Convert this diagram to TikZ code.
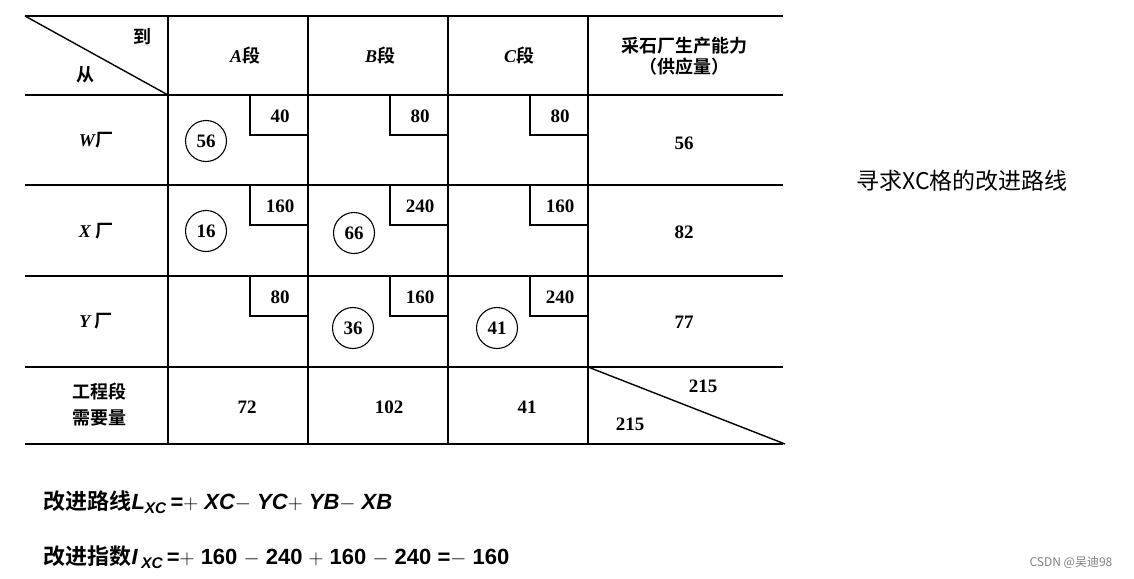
\documentclass[tikz,border=0pt]{standalone}
\usepackage{fontspec}
\setmainfont{Liberation Serif}
\newfontfamily\cjk{Noto Sans CJK SC}
\newfontfamily\cjkb{Noto Sans CJK SC Bold}
\newfontfamily\sans{Liberation Sans}
\newfontfamily\serb{Liberation Serif Bold}
\newfontfamily\serbi{Liberation Serif Bold Italic}
\newfontfamily\sansbi{Liberation Sans Bold Italic}
\newfontfamily\sansb{Liberation Sans Bold}
\begin{document}
\begin{tikzpicture}[x=1pt,y=-1pt,
  ln/.style={line width=1.4pt},
  t/.style={font=\serb\fontsize{19}{19}\selectfont},
  c/.style={font=\cjkb\fontsize{18}{18}\selectfont},
  circ/.style={draw,circle,line width=1.1pt,minimum size=41pt,inner sep=0pt,font=\serb\fontsize{19}{19}\selectfont}]
\useasboundingbox (0,0) rectangle (1134,578);
\foreach \y in {16,95,185,276,367,444} \draw[ln] (25,\y) -- (783,\y);
\foreach \x in {168,308,448,588} \draw[ln] (\x,16) -- (\x,444);
\draw[ln] (25,16) -- (168,95);
\draw[ln] (588,367) -- (785,444);
\node[c] (to) at (142,37) {到};
\node[c] (from) at (85,75) {从};
\node[c] (ha) at (245,56) {{\serbi A}段};
\node[c] (hb) at (380,56) {{\serbi B}段};
\node[c] (hc) at (519,56) {{\serbi C}段};
\node[c,align=center] (hs) at (684,56) {采石厂生产能力\\[3pt]（供应量）};
\node[c] (rw) at (96,140) {{\serbi W}厂};
\node[c] (rx) at (96,231) {{\serbi X} 厂};
\node[c] (ry) at (96,321) {{\serbi Y} 厂};
\node[c,align=left] (rd) at (99,405) {工程段\\[8pt]需要量};
\foreach \r/\cl/\v in {95/308/40,95/448/80,95/588/80,185/308/160,185/448/240,185/588/160,276/308/80,276/448/160,276/588/240}{
  \draw[line width=1.1pt] (\cl-58,\r) -- (\cl-58,\r+40) -- (\cl,\r+40);
  \node[t] at (\cl-28,\r+21) {\v};
}
\node[circ] (c1) at (206,141) {56};
\node[circ] (c2) at (206,231) {16};
\node[circ] (c3) at (354,233) {66};
\node[circ] (c4) at (353,328) {36};
\node[circ] (c5) at (497,328) {41};
\node[t] (s1) at (684,143) {56};
\node[t] (s2) at (684,232) {82};
\node[t] (s3) at (684,322) {77};
\node[t] (d1) at (247,407) {72};
\node[t] (d2) at (389,407) {102};
\node[t] (d3) at (527,407) {41};
\node[t] (tt1) at (703,386) {215};
\node[t] (tt2) at (630,424) {215};
\node[font=\cjk\fontsize{23}{23}\selectfont] (title) at (962,181) {寻求XC格的改进路线};
\node[anchor=west,font=\cjkb\fontsize{22}{22}\selectfont] (f1) at (40,502) {改进路线{\sansbi L\textsubscript{XC}}\,{\sansb =$+$ {\sansbi XC}$-$ {\sansbi YC}$+$ {\sansbi YB}$-$ {\sansbi XB}}};
\node[anchor=west,font=\cjkb\fontsize{22}{22}\selectfont] (f2) at (40,557) {改进指数{\sansbi I\,\textsubscript{XC}}\,{\sansb =$+$ 160 $-$ 240 $+$ 160 $-$ 240 =$-$ 160}};
\node[font=\cjk\fontsize{12}{12}\selectfont,text=gray] (wm) at (1071,563) {CSDN @吴迪98};
\end{tikzpicture}
\end{document}
